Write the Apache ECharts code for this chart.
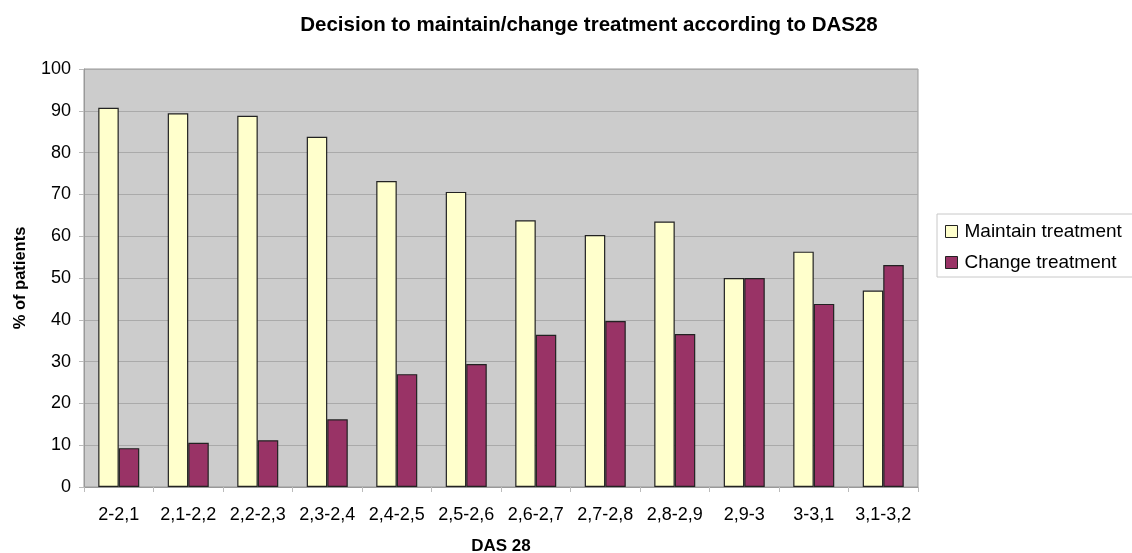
<!DOCTYPE html>
<html>
<head>
<meta charset="utf-8">
<script src="https://cdn.jsdelivr.net/npm/echarts@6/dist/echarts.min.js"></script>
<style>html,body{margin:0;padding:0;background:#fff}#c{width:1132px;height:553px}</style>
</head>
<body>
<div id="c"></div>
<script>
const categories = ['2-2,1','2,1-2,2','2,2-2,3','2,3-2,4','2,4-2,5','2,5-2,6','2,6-2,7','2,7-2,8','2,8-2,9','2,9-3','3-3,1','3,1-3,2'];
const maintainValues = [90.7, 89.4, 88.8, 83.8, 73.2, 70.6, 63.8, 60.3, 63.5, 50.0, 56.3, 47.0];
const changeValues = [9.3, 10.6, 11.2, 16.2, 27.0, 29.4, 36.4, 39.7, 36.6, 50.0, 43.8, 53.1];
const yTicks = {min: 0, max: 100, interval: 10};

const font = '"Liberation Sans", Arial, sans-serif';
const chart = echarts.init(document.getElementById('c'), null, {renderer: 'canvas'});
chart.setOption({
  animation: false,
  textStyle: {fontFamily: font},
  title: {
    text: 'Decision to maintain/change treatment according to DAS28',
    left: 584, textAlign: 'center', top: 10,
    textStyle: {fontFamily: font, fontWeight: 'bold', fontSize: 20.5, color: '#000'}
  },
  legend: {
    orient: 'vertical',
    left: 937, top: 214,
    padding: [8, 30, 5, 8],
    itemGap: 12,
    itemWidth: 12, itemHeight: 12,
    borderColor: '#c8c8c8', borderWidth: 1,
    backgroundColor: '#fff',
    textStyle: {fontFamily: font, fontSize: 19, color: '#000', padding: [0, 0, 0, 2]},
    data: [
      {name: 'Maintain treatment', icon: 'rect', itemStyle: {color: '#FFFFCC', borderColor: '#222', borderWidth: 1}},
      {name: 'Change treatment', icon: 'rect', itemStyle: {color: '#993366', borderColor: '#222', borderWidth: 1}}
    ]
  },
  grid: {left: 84, right: 214, top: 69, bottom: 66, containLabel: false, outerBoundsMode: 'none', show: true, backgroundColor: '#CCCCCC', borderColor: '#999', borderWidth: 1},
  xAxis: {
    type: 'category',
    data: categories,
    name: 'DAS 28',
    nameLocation: 'middle',
    nameGap: 51,
    nameTextStyle: {fontFamily: font, fontWeight: 'bold', fontSize: 17, color: '#000'},
    axisLine: {lineStyle: {color: '#999', width: 1}},
    axisTick: {show: true, length: 5, lineStyle: {color: '#bbb'}},
    axisLabel: {interval: 0, fontFamily: font, fontSize: 18, color: '#000', margin: 19}
  },
  yAxis: {
    type: 'value',
    min: yTicks.min, max: yTicks.max, interval: yTicks.interval,
    name: '% of patients',
    nameLocation: 'middle',
    nameGap: 55,
    nameRotate: 90,
    nameTextStyle: {fontFamily: font, fontWeight: 'bold', fontSize: 16.5, color: '#000'},
    axisLine: {show: true, lineStyle: {color: '#999', width: 1}},
    axisTick: {show: true, length: 5, lineStyle: {color: '#bbb'}},
    axisLabel: {fontFamily: font, fontSize: 18, color: '#000', margin: 13},
    splitLine: {lineStyle: {color: '#AAAAAA', width: 1}}
  },
  series: [
    {
      name: 'Maintain treatment', type: 'bar', data: maintainValues,
      barGap: '0%', barCategoryGap: '41%',
      itemStyle: {color: '#FFFFCC', borderColor: '#222', borderWidth: 1.2}
    },
    {
      name: 'Change treatment', type: 'bar', data: changeValues,
      itemStyle: {color: '#993366', borderColor: '#222', borderWidth: 1.2}
    }
  ]
});
</script>
</body>
</html>
